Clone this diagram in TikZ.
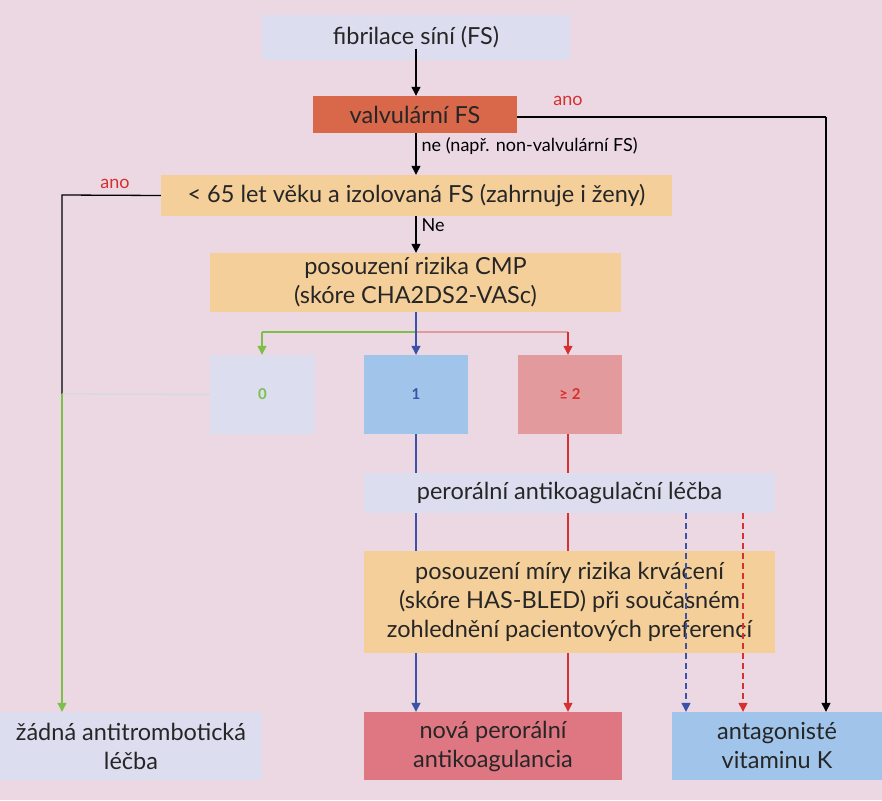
\documentclass[tikz,border=0pt]{standalone}
\usepackage{fontspec}
\setmainfont{Lato}
\usetikzlibrary{arrows.meta}
\definecolor{bg}{HTML}{EBD8E3}
\definecolor{lav}{HTML}{DCDDEE}
\definecolor{org}{HTML}{F5CF9A}
\definecolor{valv}{HTML}{D9674A}
\definecolor{blu}{HTML}{A0C4EA}
\definecolor{pnk}{HTML}{E29A9C}
\definecolor{noac}{HTML}{DF7783}
\definecolor{lblue}{HTML}{3A52A8}
\definecolor{lred}{HTML}{D63030}
\definecolor{lgreen}{HTML}{7CC04A}
\begin{document}
\begin{tikzpicture}[x=1pt,y=-1pt,
 box/.style={draw=none,inner sep=0pt,align=center,font=\fontsize{23.5}{29}\selectfont,text=black!85},
 num/.style={box,font=\bfseries\fontsize{15}{17}\selectfont},
 arr/.style={-{Triangle[width=9pt,length=9pt]},line width=1.3pt},
 ln/.style={line width=1.3pt},
 lab/.style={font=\fontsize{18}{20}\selectfont,inner sep=1pt}]
\fill[bg] (0,0) rectangle (882,800);
\useasboundingbox (0,0) rectangle (882,800);
\fill[lav] (262,15) rectangle (570,60); \node[box] (fs) at (416,37.5) {fibrilace síní (FS)};
\fill[valv] (313,96) rectangle (517,133); \node[box,minimum width=204pt,minimum height=37pt] (valv) at (415,114.5) {valvulární FS};
\fill[org] (161,175) rectangle (672,216); \node[box,minimum width=511pt,minimum height=41pt] (age) at (416.5,195.5) {< 65 let věku a izolovaná FS (zahrnuje i ženy)};
\fill[org] (210,253) rectangle (621,312); \node[box,minimum width=411pt,minimum height=59pt] (risk) at (415.5,282.5) {posouzení rizika CMP\\(skóre CHA2DS2-VASc)};
\fill[lav] (210,355) rectangle (315,434); \node[num,minimum width=105pt,minimum height=79pt,text=lgreen] (b0) at (262.5,394.5) {0};
\fill[blu] (364,355) rectangle (468,434); \node[num,minimum width=104pt,minimum height=79pt,text=lblue] (b1) at (416,394.5) {1};
\fill[pnk] (518,355) rectangle (622,434); \node[num,minimum width=104pt,minimum height=79pt,text=lred] (b2) at (570,394.5) {≥ 2};
\fill[lav] (364,473) rectangle (775,513); \node[box,minimum width=411pt,minimum height=40pt] (pal) at (569.5,493) {perorální antikoagulační léčba};
\fill[org] (364,551) rectangle (775,653); \node[box,minimum width=411pt,minimum height=102pt] (bleed) at (569.5,602) {posouzení míry rizika krvácení\\(skóre HAS-BLED) při současném\\zohlednění pacientových preferencí};
\fill[lav] (0,712) rectangle (262,780); \node[box,minimum width=262pt,minimum height=68pt] (none) at (131,746) {žádná antitrombotická\\léčba};
\fill[noac] (364,712) rectangle (622,780); \node[box,minimum width=258pt,minimum height=68pt] (noacn) at (493,746) {nová perorální\\antikoagulancia};
\fill[blu] (672,712) rectangle (882,780); \node[box,minimum width=210pt,minimum height=68pt] (vka) at (777,746) {antagonisté\\vitaminu K};
\coordinate (c1) at (826,117); \coordinate (c2) at (62,195); \coordinate (c3) at (62,394);
\coordinate (g1) at (262,332); \coordinate (r1) at (568,332);
\draw[arr] (fs) -- (fs|-valv.north);
\draw[arr] (valv.south-|fs) -- node[lab,right,pos=0.3,xshift=4pt]{ne (např. non-valvulární FS)} (fs|-age.north);
\draw[arr] (age.south-|fs) -- node[lab,right,pos=0.25,xshift=4pt]{Ne} (fs|-risk.north);
\draw[ln] (valv.east|-c1) -- (c1);
\draw[arr] (c1) -- (c1|-vka.north);
\node[lab,text=lred] at (568,101) {ano};
\draw[ln] (age.west) -- (c2) -- (c3);
\node[lab,text=lred] at (115,184) {ano};
\draw[ln,black!15] (b0.west) -- (c3);
\draw[arr,lgreen] (c3) -- (c3|-none.north);
\draw[ln,pnk] (416,332) -- (r1);
\draw[arr,lred] (r1) -- (r1|-b2.north);
\draw[ln,lgreen] (416,332) -- (g1);
\draw[arr,lgreen] (g1) -- (g1|-b0.north);
\draw[arr,lblue] (risk.south-|fs) -- (fs|-b1.north);
\draw[ln,lblue] (b1.south-|fs) -- (fs|-pal.north);
\draw[ln,lblue] (pal.south-|fs) -- (fs|-bleed.north);
\draw[arr,lblue] (bleed.south-|fs) -- (fs|-noacn.north);
\draw[ln,lred] (b2.south-|r1) -- (r1|-pal.north);
\draw[ln,lred] (pal.south-|r1) -- (r1|-bleed.north);
\draw[arr,lred] (bleed.south-|r1) -- (r1|-noacn.north);
\coordinate (d1) at (686,513); \coordinate (d2) at (743,513);
\draw[arr,lblue,dash pattern=on 6pt off 4pt] (d1) -- (d1|-vka.north);
\draw[arr,lred,dash pattern=on 6pt off 4pt] (d2) -- (d2|-vka.north);
\end{tikzpicture}
\end{document}
